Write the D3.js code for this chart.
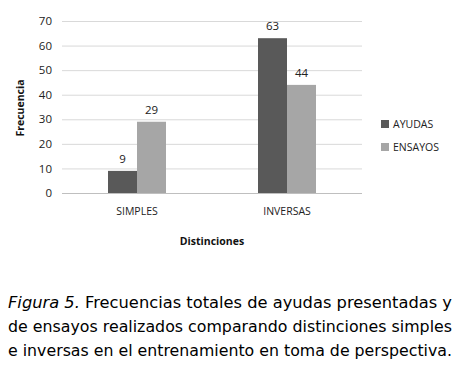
<!DOCTYPE html>
<html>
<head>
<meta charset="utf-8">
<script src="https://cdn.jsdelivr.net/npm/d3@7"></script>
<style>
  body { margin: 0; background: #fff; }
  svg { display: block; }
</style>
</head>
<body>
<svg id="chart" width="456" height="366"></svg>
<script>
var categories = ["SIMPLES", "INVERSAS"];
var series = ["AYUDAS", "ENSAYOS"];
var ayudas = [9, 63];
var ensayos = [29, 44];
var yTicks = [0, 10, 20, 30, 40, 50, 60, 70];
var colors = ["#595959", "#a6a6a6"];
var caption = [
  "Frecuencias totales de ayudas presentadas y",
  "de ensayos realizados comparando distinciones simples",
  "e inversas en el entrenamiento en toma de perspectiva."
];

var dims = { left: 62, right: 362, top: 21, bottom: 193 };
var font = "'Open Sans', 'DejaVu Sans', sans-serif";

var svg = d3.select("#chart");

var x0 = d3.scaleBand()
  .domain(categories)
  .range([dims.left, dims.right]);
var x1 = d3.scaleBand()
  .domain(series)
  .range([0, 58]);
var y = d3.scaleLinear()
  .domain([0, 70])
  .range([dims.bottom, dims.top]);

// grid
svg.append("g")
  .selectAll("line")
  .data(yTicks)
  .enter()
  .append("line")
  .attr("x1", dims.left)
  .attr("x2", dims.right)
  .attr("y1", d => y(d) + 0.5)
  .attr("y2", d => y(d) + 0.5)
  .attr("stroke", d => d == 0 ? "#bfbfbf" : "#d9d9d9")
  .attr("stroke-width", 1);

// y axis
var yAxis = svg.append("g")
  .attr("transform", `translate(${dims.left},0)`)
  .call(d3.axisLeft(y).tickValues(yTicks).tickSize(0).tickPadding(10));
yAxis.select(".domain").remove();
yAxis.selectAll("text")
  .style("font-family", font)
  .style("font-size", "11.5px")
  .attr("fill", "#222");

// bars
var data = categories.map((c, i) => ({ cat: c, vals: [ayudas[i], ensayos[i]] }));
var groups = svg.selectAll(".grp")
  .data(data)
  .enter()
  .append("g")
  .attr("class", "grp")
  .attr("transform", d => `translate(${x0(d.cat) + x0.bandwidth() / 2 - 29},0)`);

groups.selectAll("rect")
  .data(d => d.vals.map((v, j) => ({ s: series[j], v: v, j: j })))
  .enter()
  .append("rect")
  .attr("x", d => x1(d.s))
  .attr("y", d => y(d.v))
  .attr("width", x1.bandwidth())
  .attr("height", d => y(0) - y(d.v))
  .attr("fill", d => colors[d.j]);

groups.selectAll(".lbl")
  .data(d => d.vals.map((v, j) => ({ s: series[j], v: v })))
  .enter()
  .append("text")
  .attr("class", "lbl")
  .attr("x", d => x1(d.s) + x1.bandwidth() / 2)
  .attr("y", d => y(d.v) - 8)
  .attr("text-anchor", "middle")
  .style("font-family", font)
  .style("font-size", "11.5px")
  .attr("fill", "#222")
  .text(d => d.v);

// x axis labels
var xAxis = svg.append("g")
  .attr("transform", `translate(0,${dims.bottom})`)
  .call(d3.axisBottom(x0).tickSize(0).tickPadding(15));
xAxis.select(".domain").remove();
xAxis.selectAll("text")
  .style("font-family", font)
  .style("font-size", "10.5px")
  .attr("fill", "#222");

// axis titles
svg.append("text")
  .attr("x", 212)
  .attr("y", 245)
  .attr("text-anchor", "middle")
  .style("font-family", font)
  .style("font-size", "10.5px")
  .style("font-weight", "bold")
  .attr("fill", "#111")
  .text("Distinciones");

svg.append("text")
  .attr("transform", "translate(24,108) rotate(-90)")
  .attr("text-anchor", "middle")
  .style("font-family", font)
  .style("font-size", "10.5px")
  .style("font-weight", "bold")
  .attr("fill", "#111")
  .text("Frecuencia");

// legend
var legend = svg.selectAll(".leg")
  .data(series)
  .enter()
  .append("g")
  .attr("class", "leg")
  .attr("transform", (d, i) => `translate(381,${120 + i * 23})`);
legend.append("rect")
  .attr("width", 8)
  .attr("height", 8)
  .attr("fill", (d, i) => colors[i]);
legend.append("text")
  .attr("x", 12)
  .attr("y", 8)
  .style("font-family", font)
  .style("font-size", "10.5px")
  .attr("fill", "#222")
  .text(d => d);

// caption
var cap = svg.append("g")
  .style("font-family", "'DejaVu Sans', sans-serif")
  .style("font-size", "15.5px")
  .attr("fill", "#000");

var first = cap.append("text")
  .attr("x", 8)
  .attr("y", 308)
  .attr("textLength", 444)
  .attr("lengthAdjust", "spacingAndGlyphs");
first.append("tspan")
  .style("font-style", "italic")
  .text("Figura 5.");
first.append("tspan").text(" " + caption[0]);

cap.append("text")
  .attr("x", 8)
  .attr("y", 332)
  .attr("textLength", 444)
  .attr("lengthAdjust", "spacingAndGlyphs")
  .text(caption[1]);
cap.append("text")
  .attr("x", 8)
  .attr("y", 356)
  .attr("textLength", 444)
  .attr("lengthAdjust", "spacingAndGlyphs")
  .text(caption[2]);
</script>
</body>
</html>
